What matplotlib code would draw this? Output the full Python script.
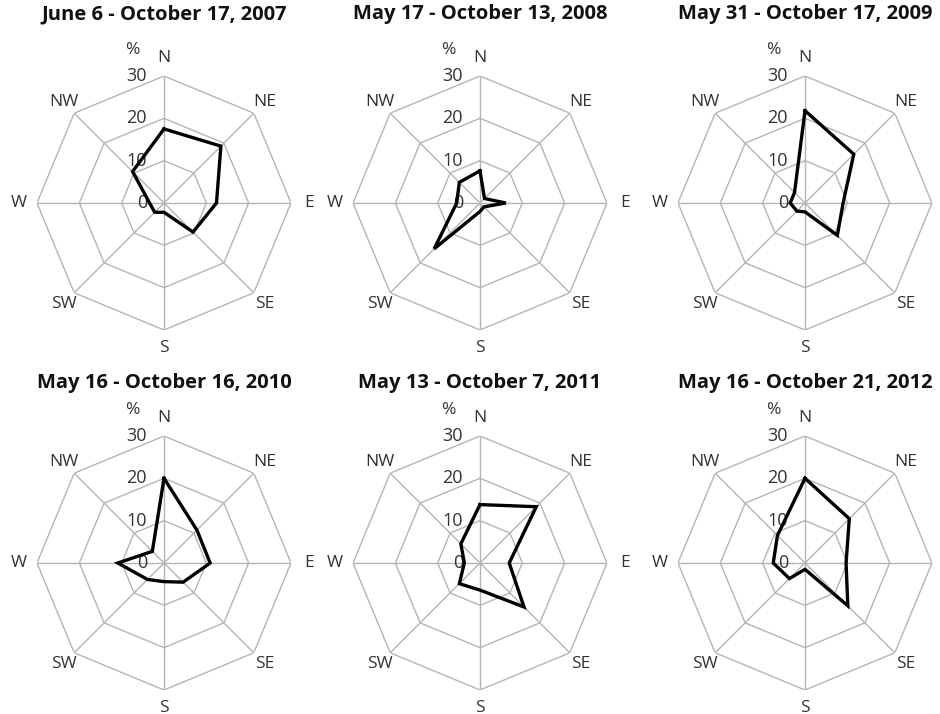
"""Wind direction frequency radar charts, six seasons."""
import numpy as np
import matplotlib
matplotlib.use('Agg')
import matplotlib.pyplot as plt

plt.rcParams['font.family'] = ['Open Sans', 'DejaVu Sans']

directions = ['N', 'NE', 'E', 'SE', 'S', 'SW', 'W', 'NW']
titles = ['June 6 - October 17, 2007', 'May 17 - October 13, 2008',
          'May 31 - October 17, 2009', 'May 16 - October 16, 2010',
          'May 13 - October 7, 2011', 'May 16 - October 21, 2012']

# percent of time per direction (N, NE, E, SE, S, SW, W, NW)
v2007 = [17.5, 19.0, 12.4, 9.7, 2.2, 3.1, 3.4, 10.5]
v2008 = [7.6, 1.5, 6.1, 1.3, 2.0, 15.3, 5.5, 6.9]
v2009 = [21.8, 16.3, 9.0, 10.8, 2.1, 2.7, 3.5, 3.5]
v2010 = [20.0, 11.0, 10.9, 6.4, 4.4, 5.5, 10.9, 3.9]
v2011 = [13.8, 18.8, 6.9, 14.7, 6.4, 6.9, 3.7, 6.4]
v2012 = [20.0, 14.8, 9.7, 14.3, 1.5, 5.2, 7.5, 9.2]
series = [v2007, v2008, v2009, v2010, v2011, v2012]

rings = [10, 20, 30]
ring_labels = ['0', '10', '20', '30']

W, H = 940, 714
fig = plt.figure(figsize=(W / 100, H / 100), dpi=100)

centers_x = [164, 480, 805]
centers_y = [203, 563]
title_y = [14, 383]
R = 127  # px radius of the 30% ring

theta = np.linspace(0, 2 * np.pi, len(directions), endpoint=False)
theta_c = np.append(theta, theta[0])
grid_col = '#b4b4b4'
txt_col = '#333333'

for i, (vals, title) in enumerate(zip(series, titles)):
    cx = centers_x[i % 3]
    cy = centers_y[i // 3]
    ax = fig.add_axes([(cx - R) / W, 1 - (cy + R) / H, 2 * R / W, 2 * R / H],
                      projection='polar')
    ax.set_theta_zero_location('N')
    ax.set_theta_direction(-1)
    ax.set_ylim(0, 30)
    ax.grid(False)
    ax.spines['polar'].set_visible(False)
    ax.set_xticks([])
    ax.set_yticks([])
    ax.patch.set_alpha(0)

    # octagonal grid
    for r in rings:
        ax.plot(theta_c, [r] * len(theta_c), color=grid_col, lw=1, zorder=1)
    for t in theta:
        ax.plot([t, t], [0, 30], color=grid_col, lw=1, zorder=1)

    # data polygon
    vc = list(vals) + [vals[0]]
    ax.plot(theta_c, vc, color='black', lw=2.4, zorder=3,
            solid_joinstyle='miter')

    # direction labels (E of the right column falls outside the figure)
    for t, d in zip(theta, directions):
        if d == 'E' and i % 3 == 2:
            continue
        r_lab = 34.2 if d in ('N', 'S', 'E', 'W') else 33.6
        ax.text(t, r_lab, d, ha='center', va='center', fontsize=12.5,
                color=txt_col, clip_on=False)

    # radial labels
    for k, lab in enumerate(ring_labels):
        ax.annotate(lab, xy=(0, k * 10), xytext=(-17, 0),
                    textcoords='offset pixels',
                    ha='right', va='center', fontsize=13, color=txt_col,
                    zorder=2)
    ax.text(0.5 - 32 / (2 * R), 0.5 + 153 / (2 * R), '%',
            transform=ax.transAxes, ha='center', va='center',
            fontsize=12.5, color=txt_col)

    ax.text(0.5, 0.5 + (cy - title_y[i // 3]) / (2 * R), title,
            transform=ax.transAxes, ha='center', va='center',
            fontsize=14.5, fontweight='bold', color='#111111')

fig.savefig('out.png', dpi=100, facecolor='white')
plt.close(fig)
